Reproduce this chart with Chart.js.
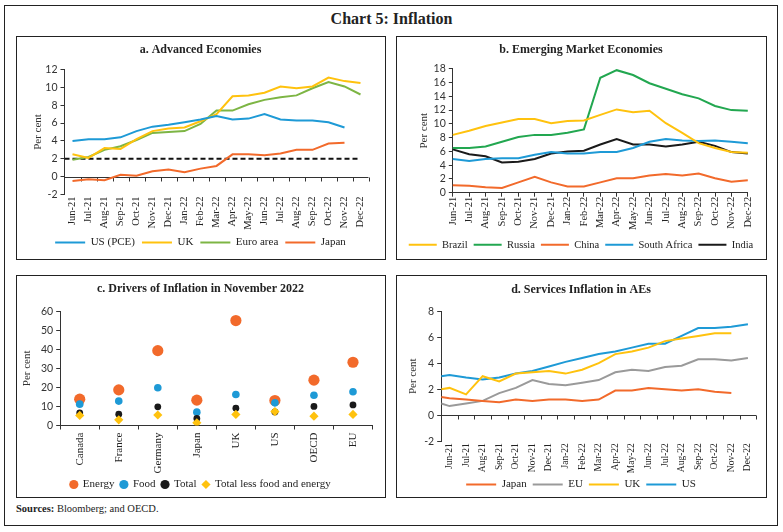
<!DOCTYPE html>
<html><head><meta charset="utf-8">
<script src="https://cdn.jsdelivr.net/npm/chart.js@4.4.0/dist/chart.umd.min.js"></script>
<style>
body{margin:0;background:#fff;width:783px;height:532px;position:relative;overflow:hidden;font-family:"Liberation Serif",serif;color:#222;}
#outer{position:absolute;left:4px;top:5px;width:774px;height:521px;border:1.5px solid #222;box-sizing:border-box;}
.panel{position:absolute;border:1.5px solid #222;box-sizing:border-box;background:#fff;}
.panel canvas{position:absolute;left:0;top:0;}
#title{position:absolute;left:0;width:783px;top:10px;text-align:center;font-weight:bold;font-size:16px;}
#src{position:absolute;left:16px;top:503px;font-size:10.5px;}
</style></head>
<body>
<div id="outer"></div>
<div id="title">Chart 5: Inflation</div>
<div class="panel" style="left:16px;top:36px;width:370px;height:224px"><canvas id="ca" width="367" height="221"></canvas></div>
<div class="panel" style="left:396px;top:36px;width:371px;height:224px"><canvas id="cb" width="368" height="221"></canvas></div>
<div class="panel" style="left:16px;top:275px;width:370px;height:223px"><canvas id="cc" width="367" height="220"></canvas></div>
<div class="panel" style="left:396px;top:275px;width:371px;height:223px"><canvas id="cd" width="368" height="220"></canvas></div>
<div id="src"><b>Sources:</b> Bloomberg; and OECD.</div>
<script>
// ---------- data ----------
const months = ['Jun-21','Jul-21','Aug-21','Sep-21','Oct-21','Nov-21','Dec-21','Jan-22','Feb-22','Mar-22','Apr-22','May-22','Jun-22','Jul-22','Aug-22','Sep-22','Oct-22','Nov-22','Dec-22'];

// a. Advanced Economies (one value per month)
const aeUS    = [4.0,4.2,4.2,4.4,5.1,5.6,5.8,6.1,6.4,6.8,6.4,6.5,7.0,6.4,6.3,6.3,6.1,5.5,null];
const aeUK    = [2.5,2.1,3.2,3.1,4.2,5.1,5.4,5.5,6.2,7.0,9.0,9.1,9.4,10.1,9.9,10.1,11.1,10.7,10.5];
const aeEuro  = [1.9,2.2,3.0,3.4,4.1,4.9,5.0,5.1,5.9,7.4,7.4,8.1,8.6,8.9,9.1,9.9,10.6,10.1,9.2];
const aeJapan = [-0.5,-0.3,-0.4,0.2,0.1,0.6,0.8,0.5,0.9,1.2,2.5,2.5,2.4,2.6,3.0,3.0,3.7,3.8,null];
// 2 per cent target: first value sits on the vertical axis, then one per month
const aeTarget = [2,2,2,2,2,2,2,2,2,2,2,2,2,2,2,2,2,2,2,2];

// b. Emerging Market Economies
const emBrazil = [8.4,9.0,9.7,10.2,10.7,10.7,10.1,10.4,10.5,11.3,12.1,11.7,11.9,10.1,8.7,7.2,6.5,5.9,5.8];
const emRussia = [6.5,6.5,6.7,7.4,8.1,8.4,8.4,8.7,9.2,16.7,17.8,17.1,15.9,15.1,14.3,13.7,12.6,12.0,11.9];
const emChina  = [1.1,1.0,0.8,0.7,1.5,2.3,1.5,0.9,0.9,1.5,2.1,2.1,2.5,2.7,2.5,2.8,2.1,1.6,1.8];
const emSA     = [4.9,4.6,4.9,5.0,5.0,5.5,5.9,5.7,5.7,5.9,5.9,6.5,7.4,7.8,7.6,7.5,7.6,7.4,7.2];
const emIndia  = [6.3,5.6,5.3,4.4,4.5,4.9,5.7,6.0,6.1,7.0,7.8,7.0,7.0,6.7,7.0,7.4,6.8,5.9,5.7];

// c. Drivers of Inflation in November 2022
const countries = ['Canada','France','Germany','Japan','UK','US','OECD','EU'];
const drvEnergy = [13.8,18.7,39.3,13.3,55.1,13.1,23.8,33.2];
const drvFood   = [11.2,12.8,19.8,7.0,16.3,11.9,15.9,17.7];
const drvTotal  = [6.6,5.9,9.8,3.7,9.1,7.1,10.0,10.8];
const drvCore   = [5.3,3.0,5.5,1.4,5.8,7.3,4.9,5.8];

// d. Services Inflation in AEs: first value sits on the vertical axis, then one per month
const svJapan = [1.4,1.3,1.2,1.1,1.0,1.2,1.1,1.2,1.2,1.1,1.2,1.9,1.9,2.1,2.0,1.9,2.0,1.8,1.7,null];
const svEU    = [0.9,0.7,0.9,1.1,1.7,2.1,2.7,2.4,2.3,2.5,2.7,3.3,3.5,3.4,3.7,3.8,4.3,4.3,4.2,4.4];
const svUK    = [2.0,2.1,1.6,3.0,2.6,3.2,3.3,3.4,3.2,3.5,4.0,4.7,4.9,5.2,5.7,5.9,6.1,6.3,6.3,null];
const svUS    = [3.0,3.1,2.9,2.75,2.9,3.2,3.4,3.75,4.1,4.4,4.7,4.9,5.2,5.5,5.5,6.1,6.7,6.7,6.8,7.0];

// ---------- helpers ----------
const C = {blue:'#1E9AD6', yellow:'#FFC20E', green:'#7DB544', orange:'#F26A2B', rgreen:'#22A750', gray:'#9A9A9A', black:'#1A1A1A'};
const SERIF = '"Liberation Serif", serif';
const SANS = 'Lato, "Liberation Sans", sans-serif';
Chart.defaults.font.family = SERIF;
Chart.defaults.color = '#222';
Chart.defaults.animation = false;

const atMonths = vals => vals.map((v,i)=>({x:i, y:v}));
const withOrigin = vals => vals.map((v,i)=>({x: i===0 ? -0.5 : i-1, y:v}));

function lineDs(label, data, color, extra){
  return Object.assign({label, data, borderColor:color, backgroundColor:color, borderWidth:2,
    pointRadius:0, tension:0, fill:false, spanGaps:false}, extra||{});
}
function yAxis(min,max,step,width,titleOffset){
  return { min, max,
    ticks:{stepSize:step, autoSkip:false, color:'#333', font:{family:SANS,size:10.5}, padding:3},
    grid:{display:true, drawOnChartArea:false, drawTicks:true, tickLength:4, color:'#333'},
    border:{display:true, color:'#333', width:1},
    title:{display:true, text:'Per cent', color:'#333', font:{family:SERIF,size:11}, padding:{top:titleOffset,bottom:0}},
    afterFit(s){ s.width = width; } };
}
// blank right-hand spacer so the plot ends where the original does
function spacer(width){
  return {type:'linear', position:'right', display:true, ticks:{display:false}, grid:{display:false, drawTicks:false},
    border:{display:false}, afterFit(s){ s.width = width; }};
}
function monthLinearX(height, fontSize, pad){
  return { type:'linear', min:-0.5, max:months.length-0.5,
    afterBuildTicks(s){ s.ticks = months.map((m,i)=>({value:i})); },
    ticks:{autoSkip:false, maxRotation:90, minRotation:90, padding:pad, color:'#222',
      font:{family:SERIF,size:fontSize}, callback:v=>months[v]},
    grid:{display:false, drawTicks:false, tickLength:0}, border:{display:false},
    afterFit(s){ s.height = height; } };
}
function titleOpt(text, top, bottom){
  return {display:true, text, color:'#222', font:{family:SERIF,size:12,weight:'bold'}, padding:{top,bottom}};
}
function lineLegend(p, w, fs){
  return {display:true, position:'bottom',
    labels:{usePointStyle:true, pointStyle:'line', pointStyleWidth:w, padding:p, color:'#222',
      font:{family:SERIF,size:fs}, filter:it=>it.text!==''}};
}
// zero line with category tick marks (axis crossing at 0, labels at the bottom)
const zeroAxis = {
  id:'zeroAxis',
  beforeDatasetsDraw(chart){
    const {ctx} = chart; const x = chart.scales.x, y = chart.scales.y;
    const py = Math.round(y.getPixelForValue(0))+0.5;
    ctx.save(); ctx.strokeStyle='#333'; ctx.lineWidth=1; ctx.beginPath();
    ctx.moveTo(x.left,py); ctx.lineTo(x.right,py);
    for(let i=1;i<=months.length;i++){ const px=Math.round(x.getPixelForValue(i-0.5))+0.5; ctx.moveTo(px,py); ctx.lineTo(px,py+4); }
    ctx.stroke(); ctx.restore();
  }
};

// ---------- a ----------
new Chart(document.getElementById('ca'), {
  type:'line',
  data:{datasets:[
    lineDs('US (PCE)', atMonths(aeUS), C.blue),
    lineDs('UK', atMonths(aeUK), C.yellow),
    lineDs('Euro area', atMonths(aeEuro), C.green),
    lineDs('Japan', atMonths(aeJapan), C.orange),
    lineDs('', withOrigin(aeTarget), '#111', {borderDash:[5,3], borderWidth:2})
  ]},
  options:{responsive:false,
    layout:{padding:{left:0,right:0,top:0,bottom:0}},
    scales:{x:monthLinearX(35.5,10.5,2), y:yAxis(-2,12,2,47.5,15), yR:spacer(15.5)},
    plugins:{title:titleOpt('a. Advanced Economies',5.3,12.8), legend:lineLegend(7,30,11), tooltip:{enabled:false}}},
  plugins:[zeroAxis]
});

// ---------- b ----------
new Chart(document.getElementById('cb'), {
  type:'line',
  data:{labels:months, datasets:[
    lineDs('Brazil', emBrazil, C.yellow),
    lineDs('Russia', emRussia, C.rgreen),
    lineDs('China', emChina, C.orange),
    lineDs('South Africa', emSA, C.blue),
    lineDs('India', emIndia, C.black)
  ]},
  options:{responsive:false,
    layout:{padding:{left:0,right:0,top:0,bottom:-2}},
    scales:{
      x:{type:'category', offset:false,
        ticks:{autoSkip:false, maxRotation:90, minRotation:90, padding:0, color:'#222', font:{family:SERIF,size:10.5}},
        grid:{display:true, drawOnChartArea:false, drawTicks:true, tickLength:4, color:'#333'},
        border:{display:true,color:'#333',width:1},
        afterFit(s){ s.height = 40.8; }},
      y:yAxis(0,18,2,55.8,21), yR:spacer(17.2)},
    plugins:{title:titleOpt('b. Emerging Market Economies',5.3,12.1), legend:lineLegend(6,28,10.5), tooltip:{enabled:false}}}
});

// ---------- c ----------
function dotDs(label, data, color, style, r, order){
  return {label, data, showLine:false, pointStyle:style, pointRadius:r, pointBackgroundColor:color,
    pointBorderColor:color, pointBorderWidth:0, backgroundColor:color, borderColor:color, borderWidth:0, order};
}
new Chart(document.getElementById('cc'), {
  type:'line',
  data:{labels:countries, datasets:[
    dotDs('Energy', drvEnergy, C.orange, 'circle', 5.6, 4),
    dotDs('Food', drvFood, C.blue, 'circle', 3.8, 3),
    dotDs('Total', drvTotal, C.black, 'circle', 3.4, 2),
    dotDs('Total less food and energy', drvCore, C.yellow, 'rectRot', 4.6, 1)
  ]},
  options:{responsive:false,
    layout:{padding:{left:0,right:0,top:0,bottom:-4}},
    scales:{
      x:{type:'category', offset:true,
        ticks:{autoSkip:false, maxRotation:90, minRotation:90, padding:3, color:'#222', font:{family:SERIF,size:11}},
        grid:{display:true, offset:true, drawOnChartArea:false, drawTicks:true, tickLength:4, color:'#333'},
        border:{display:true,color:'#333',width:1},
        afterFit(s){ s.height = 47.5; }},
      y:yAxis(0,60,10,43.2,4), yR:spacer(11.5)},
    plugins:{title:titleOpt('c. Drivers of Inflation in November 2022',5.3,15.5),
      legend:{display:true, position:'bottom',
        labels:{usePointStyle:true, boxWidth:7, boxHeight:6.5, padding:6, color:'#222',
          font:{family:SERIF,size:11}, sort:(a,b)=>a.datasetIndex-b.datasetIndex}},
      tooltip:{enabled:false}}}
});

// ---------- d ----------
new Chart(document.getElementById('cd'), {
  type:'line',
  data:{datasets:[
    lineDs('Japan', withOrigin(svJapan), C.orange),
    lineDs('EU', withOrigin(svEU), C.gray),
    lineDs('UK', withOrigin(svUK), C.yellow),
    lineDs('US', withOrigin(svUS), C.blue)
  ]},
  options:{responsive:false,
    layout:{padding:{left:0,right:0,top:0,bottom:-4}},
    scales:{x:monthLinearX(31.8,9.5,2), y:yAxis(-2,8,2,44.2,10), yR:spacer(8.8)},
    plugins:{title:titleOpt('d. Services Inflation in AEs',6.3,14.5), legend:lineLegend(6,30,11), tooltip:{enabled:false}}},
  plugins:[zeroAxis]
});
</script>
</body></html>
